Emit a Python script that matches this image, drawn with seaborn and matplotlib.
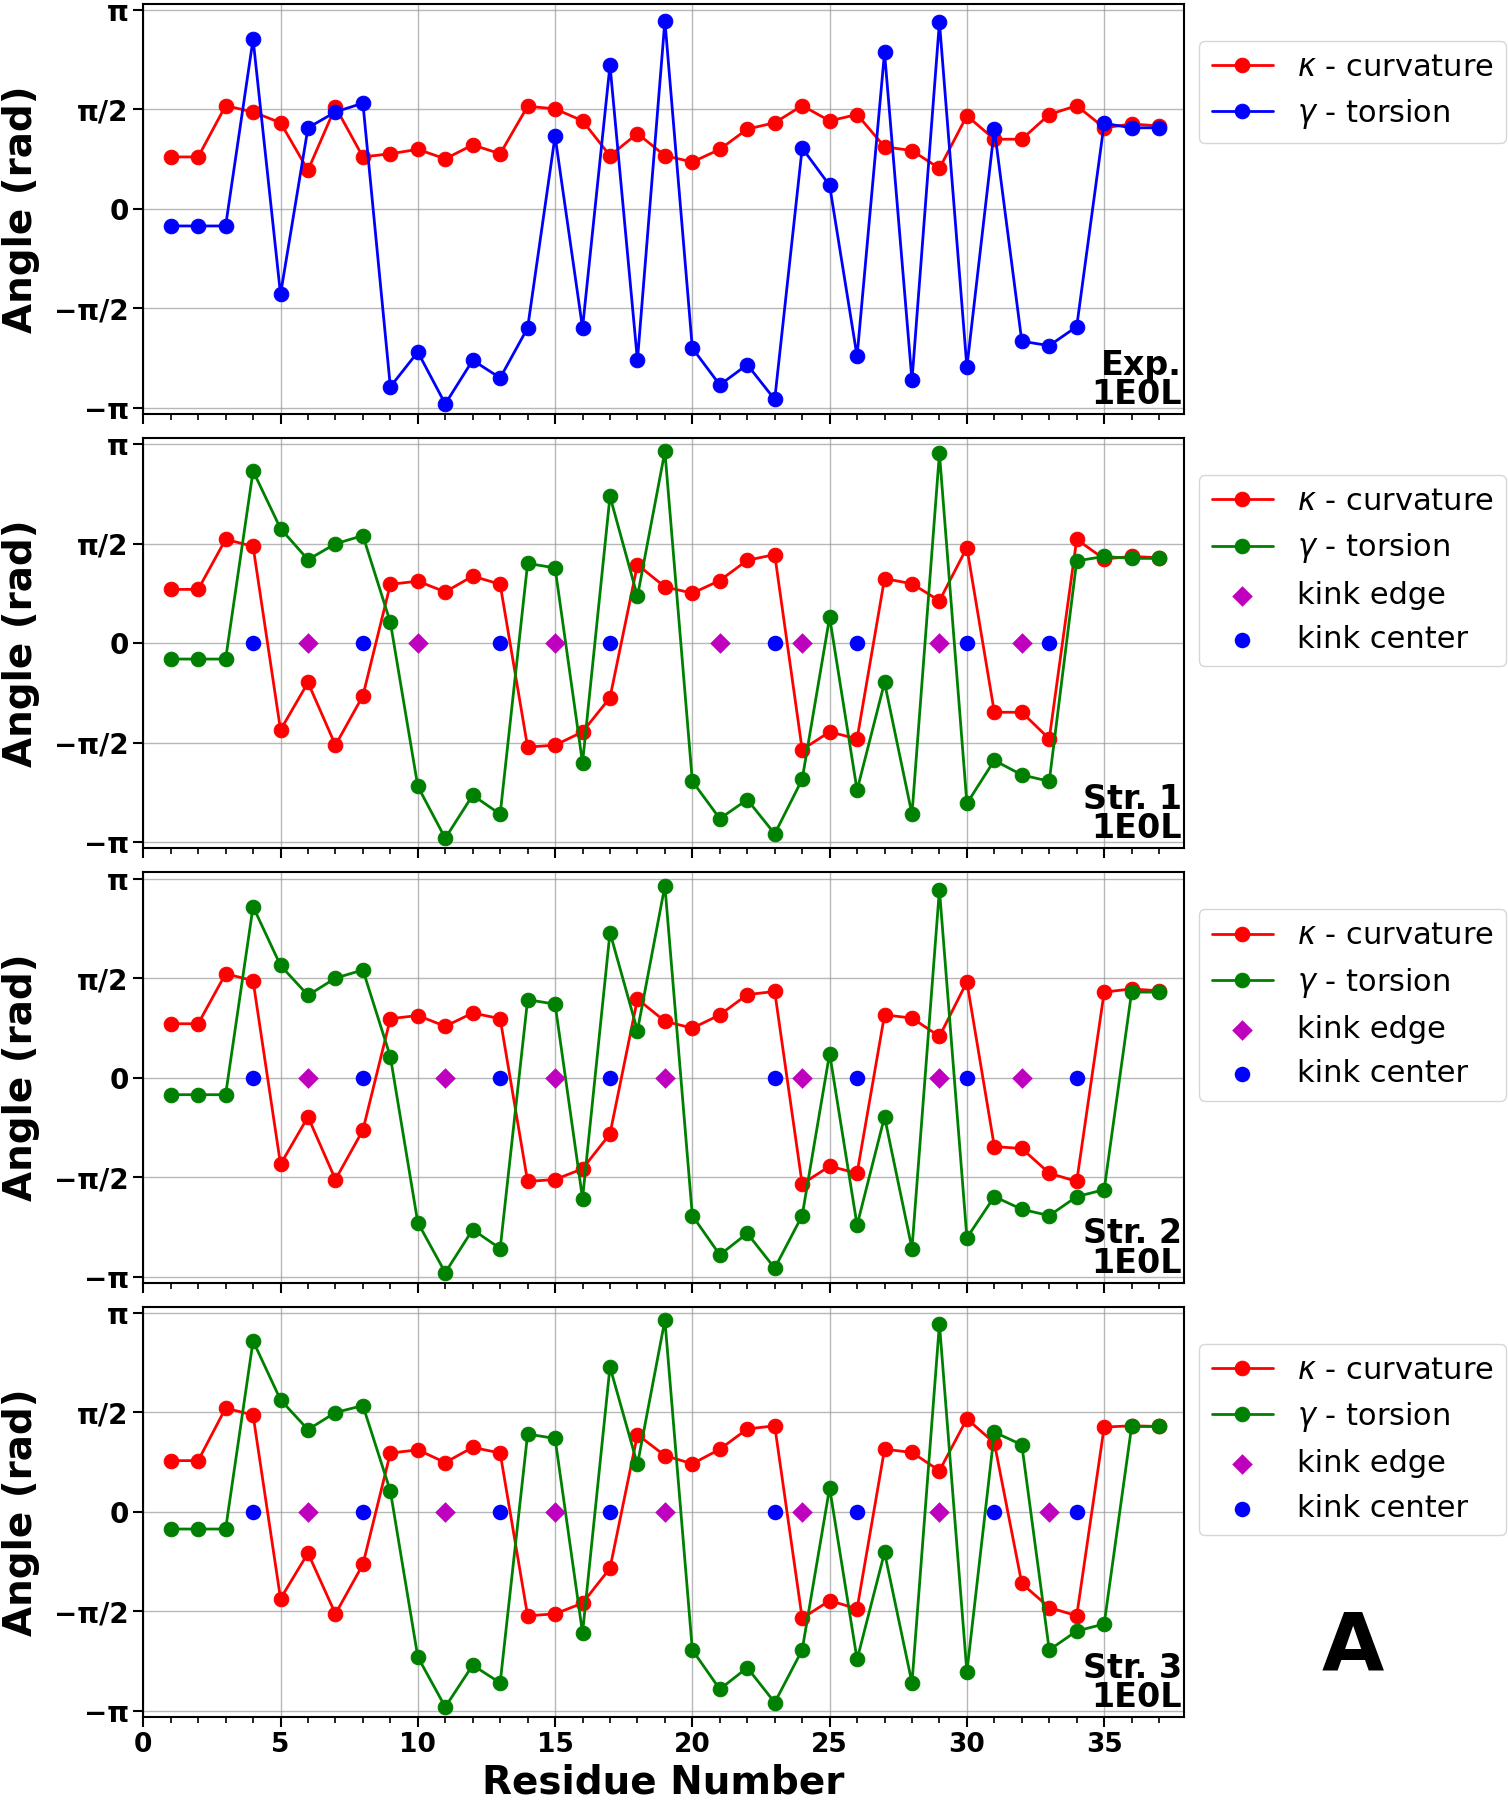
"""Curvature / torsion angle profiles of 1E0L (experimental and three structures)."""

import numpy as np
import matplotlib
matplotlib.use("Agg")
import matplotlib.pyplot as plt
import seaborn as sns
from matplotlib.ticker import MultipleLocator

# ---- data (radians), residues 1..37 ----
residues = list(range(1, 38))

exp_kappa = [0.82, 0.82, 1.63, 1.53, 1.36, 0.61, 1.61, 0.82, 0.87, 0.94, 0.79, 1.01, 0.87,
             1.62, 1.58, 1.39, 0.84, 1.19, 0.84, 0.74, 0.94, 1.26, 1.36, 1.63, 1.39, 1.49,
             0.98, 0.92, 0.64, 1.47, 1.10, 1.10, 1.49, 1.63, 1.28, 1.34, 1.31]
exp_gamma = [-0.27, -0.27, -0.27, 2.68, -1.35, 1.28, 1.53, 1.67, -2.81, -2.26, -3.08, -2.39,
             -2.67, -1.88, 1.15, -1.88, 2.27, -2.39, 2.97, -2.20, -2.78, -2.46, -3.01, 0.96,
             0.37, -2.33, 2.47, -2.71, 2.95, -2.50, 1.26, -2.09, -2.16, -1.86, 1.35, 1.28, 1.28]

str1_kappa = [0.85, 0.85, 1.64, 1.53, -1.37, -0.62, -1.61, -0.83, 0.93, 0.98, 0.81, 1.06, 0.93,
              -1.64, -1.61, -1.40, -0.86, 1.24, 0.89, 0.79, 0.99, 1.31, 1.40, -1.68, -1.40, -1.51,
              1.02, 0.94, 0.67, 1.51, -1.09, -1.09, -1.51, 1.64, 1.33, 1.37, 1.35]
str1_gamma = [-0.25, -0.25, -0.25, 2.72, 1.81, 1.32, 1.57, 1.70, 0.33, -2.26, -3.08, -2.40,
              -2.70, 1.26, 1.19, -1.89, 2.32, 0.74, 3.03, -2.18, -2.77, -2.47, -3.01, -2.15,
              0.41, -2.32, -0.62, -2.70, 3.00, -2.53, -1.85, -2.08, -2.18, 1.30, 1.37, 1.34, 1.34]
str1_kink_edge = [6, 10, 15, 21, 24, 29, 32]
str1_kink_center = [4, 8, 13, 17, 23, 26, 30, 33]

str2_kappa = [0.85, 0.85, 1.64, 1.53, -1.37, -0.62, -1.61, -0.83, 0.93, 0.98, 0.81, 1.02, 0.93,
              -1.64, -1.61, -1.44, -0.89, 1.24, 0.89, 0.78, 0.99, 1.31, 1.36, -1.68, -1.40, -1.51,
              0.99, 0.94, 0.65, 1.51, -1.09, -1.12, -1.51, -1.64, 1.35, 1.40, 1.37]
str2_gamma = [-0.27, -0.27, -0.27, 2.70, 1.77, 1.30, 1.57, 1.70, 0.33, -2.29, -3.08, -2.40,
              -2.70, 1.23, 1.16, -1.91, 2.29, 0.74, 3.03, -2.18, -2.80, -2.46, -3.01, -2.18,
              0.38, -2.33, -0.62, -2.70, 2.97, -2.53, -1.88, -2.08, -2.18, -1.88, -1.77, 1.35, 1.35]
str2_kink_edge = [6, 11, 15, 19, 24, 29, 32]
str2_kink_center = [4, 8, 13, 17, 23, 26, 30, 34]

str3_kappa = [0.81, 0.81, 1.64, 1.53, -1.37, -0.65, -1.61, -0.83, 0.93, 0.98, 0.78, 1.02, 0.93,
              -1.64, -1.61, -1.44, -0.89, 1.22, 0.89, 0.76, 0.99, 1.31, 1.36, -1.68, -1.40, -1.53,
              0.99, 0.94, 0.65, 1.47, 1.09, -1.13, -1.51, -1.64, 1.34, 1.36, 1.35]
str3_gamma = [-0.27, -0.27, -0.27, 2.70, 1.77, 1.30, 1.57, 1.68, 0.33, -2.29, -3.08, -2.42,
              -2.70, 1.23, 1.16, -1.91, 2.29, 0.75, 3.03, -2.18, -2.80, -2.46, -3.01, -2.18,
              0.38, -2.33, -0.64, -2.70, 2.97, -2.53, 1.26, 1.06, -2.18, -1.88, -1.77, 1.35, 1.35]
str3_kink_edge = [6, 11, 15, 19, 24, 29, 33]
str3_kink_center = [4, 8, 13, 17, 23, 26, 31, 34]

panel_names = ["Exp.\n1E0L", "Str. 1\n1E0L", "Str. 2\n1E0L", "Str. 3\n1E0L"]
torsion_colors = ["b", "g", "g", "g"]
y_ticks = [-np.pi, -np.pi / 2, 0, np.pi / 2, np.pi]
y_tick_labels = ["\u2212\u03c0", "\u2212\u03c0/2", "0", "\u03c0/2", "\u03c0"]


def plot_panel(ax, kappa, gamma, torsion_color, name, edges=None, centers=None):
    sns.lineplot(x=residues, y=kappa, ax=ax, color="r", marker="o", markersize=10.5,
                 markeredgecolor="r", linewidth=2, label=r"$\kappa$ - curvature")
    sns.lineplot(x=residues, y=gamma, ax=ax, color=torsion_color, marker="o", markersize=10.5,
                 markeredgecolor=torsion_color, linewidth=2, label=r"$\gamma$ - torsion")
    if edges is not None:
        sns.scatterplot(x=edges, y=np.zeros(len(edges)), ax=ax, marker="D", color="m",
                        s=110, linewidth=0, label="kink edge", zorder=3)
        sns.scatterplot(x=centers, y=np.zeros(len(centers)), ax=ax, marker="o", color="b",
                        s=125, linewidth=0, label="kink center", zorder=3)

    ax.set_xlim(0, 37.9)
    ax.set_ylim(-np.pi - 0.1, np.pi + 0.1)
    ax.set_yticks(y_ticks)
    ax.set_yticklabels(y_tick_labels, fontsize=20, fontweight="bold")
    ax.xaxis.set_major_locator(MultipleLocator(5))
    ax.xaxis.set_minor_locator(MultipleLocator(1))
    ax.tick_params(axis="both", which="major", direction="out", length=7, width=1.5,
                   color="k", labelcolor="k")
    ax.tick_params(axis="x", which="minor", direction="out", length=4, width=1.2, color="k")
    ax.grid(True, which="major", color="0.6", linewidth=1.0, alpha=0.7)
    for spine in ax.spines.values():
        spine.set_visible(True)
        spine.set_color("k")
        spine.set_linewidth(1.5)

    ax.set_ylabel("Angle (rad)", fontsize=28, fontweight="bold", labelpad=10, color="k")
    ax.set_xlabel("")
    ax.text(0.998, 0.008, name, transform=ax.transAxes, ha="right", va="bottom",
            fontsize=24, fontweight="bold", linespacing=0.85, color="k")
    ax.legend(loc="upper left", bbox_to_anchor=(1.015, 0.91), borderaxespad=0,
              fontsize=22, numpoints=1, scatterpoints=1, handlelength=2.0,
              labelcolor="k")


def main():
    sns.set_style("ticks")
    plt.rcParams["font.family"] = ["DejaVu Sans"]
    plt.rcParams["mathtext.fontset"] = "dejavusans"
    plt.rcParams["text.color"] = "k"

    fig, axes = plt.subplots(4, 1, figsize=(15.08, 18.0), dpi=100, sharex=True)
    fig.subplots_adjust(left=0.095, right=0.785, top=0.998, bottom=0.046, hspace=0.058)

    plot_panel(axes[0], exp_kappa, exp_gamma, torsion_colors[0], panel_names[0])
    plot_panel(axes[1], str1_kappa, str1_gamma, torsion_colors[1], panel_names[1],
               str1_kink_edge, str1_kink_center)
    plot_panel(axes[2], str2_kappa, str2_gamma, torsion_colors[2], panel_names[2],
               str2_kink_edge, str2_kink_center)
    plot_panel(axes[3], str3_kappa, str3_gamma, torsion_colors[3], panel_names[3],
               str3_kink_edge, str3_kink_center)

    bottom = axes[3]
    bottom.set_xlabel("Residue Number", fontsize=28, fontweight="bold", labelpad=4, color="k")
    for label in bottom.get_xticklabels():
        label.set_fontsize(19)
        label.set_fontweight("bold")

    fig.text(0.897, 0.084, "A", fontsize=58, fontweight="bold", ha="center", va="center",
             color="k")

    fig.savefig("out.png", dpi=100)
    plt.close(fig)


if __name__ == "__main__":
    main()
